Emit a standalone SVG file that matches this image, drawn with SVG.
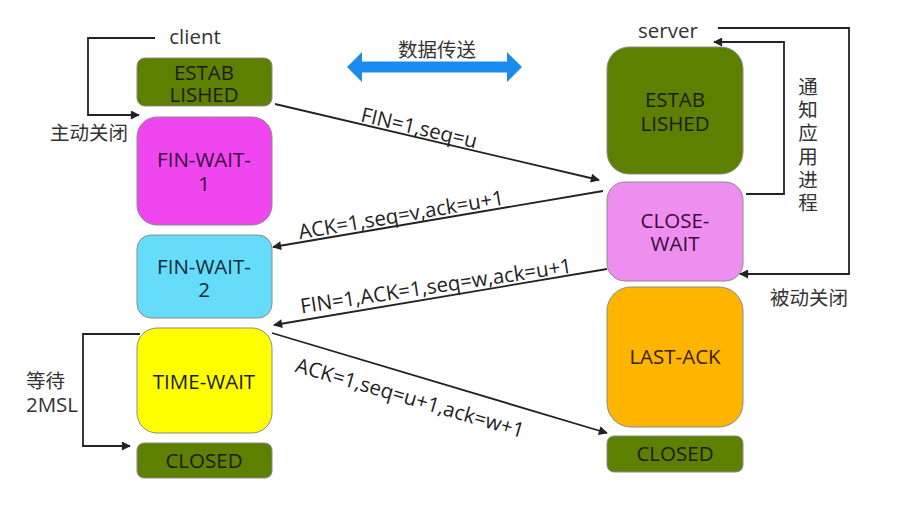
<svg xmlns="http://www.w3.org/2000/svg" width="915" height="509" viewBox="0 0 915 509">
<defs>
<marker id="ah" viewBox="0 0 10 10" refX="9" refY="5" markerWidth="10" markerHeight="9" markerUnits="userSpaceOnUse" orient="auto">
<path d="M0,0 L10,5 L0,10 z" fill="#222"/>
</marker>
<style>
.box{stroke:#8a8a8a;stroke-width:1}
.bt{font-family:"Open Sans","Noto Sans",sans-serif;font-size:20.5px;fill:#1c1c1c;text-anchor:middle}
.lbl{font-family:"Open Sans","Noto Sans",sans-serif;font-size:20.5px;fill:#222;text-anchor:middle}
.cn{font-family:"Noto Sans CJK SC",sans-serif;font-size:19.5px;fill:#333}
.ln{fill:none;stroke:#222;stroke-width:1.8}
</style>
</defs>
<rect width="915" height="509" fill="#fff"/>

<text class="lbl" x="195" y="44" style="fill:#333">client</text>
<text class="lbl" x="668" y="38" style="fill:#333">server</text>

<g id="client-established"><rect class="box" x="137" y="58" width="135" height="48" rx="8" fill="#5e8000"/><text class="bt" x="204" y="80">ESTAB</text><text class="bt" x="204" y="102">LISHED</text></g>
<g id="fin-wait-1"><rect class="box" x="137" y="117" width="135" height="108" rx="20" fill="#ef46f0"/><text class="bt" x="204" y="167" style="fill:#3a0a3a">FIN-WAIT-</text><text class="bt" x="204" y="191" style="fill:#3a0a3a">1</text></g>
<g id="fin-wait-2"><rect class="box" x="137" y="235" width="135" height="83" rx="14" fill="#66dcfb"/><text class="bt" x="204" y="274" style="fill:#0e2a3a">FIN-WAIT-</text><text class="bt" x="204" y="297" style="fill:#0e2a3a">2</text></g>
<g id="time-wait"><rect class="box" x="137" y="328" width="135" height="105" rx="20" fill="#ffff00"/><text class="bt" x="204" y="389">TIME-WAIT</text></g>
<g id="client-closed"><rect class="box" x="137" y="443" width="135" height="35" rx="7" fill="#5e8000"/><text class="bt" x="204" y="468">CLOSED</text></g>

<g id="server-established"><rect class="box" x="607" y="47" width="136" height="127" rx="22" fill="#5e8000"/><text class="bt" x="675" y="107">ESTAB</text><text class="bt" x="675" y="131">LISHED</text></g>
<g id="close-wait"><rect class="box" x="607" y="182" width="136" height="99" rx="18" fill="#ee8ff0"/><text class="bt" x="675" y="228" style="fill:#3a0a3a">CLOSE-</text><text class="bt" x="675" y="251" style="fill:#3a0a3a">WAIT</text></g>
<g id="last-ack"><rect class="box" x="607" y="287" width="136" height="140" rx="24" fill="#ffb400"/><text class="bt" x="675" y="364" style="fill:#3a2200">LAST-ACK</text></g>
<g id="server-closed"><rect class="box" x="607" y="436" width="136" height="36" rx="7" fill="#5e8000"/><text class="bt" x="675" y="461">CLOSED</text></g>

<g id="data-transfer">
<path d="M347,67 L362,52 L362,61.5 L507,61.5 L507,52 L522,67 L507,82 L507,72.5 L362,72.5 L362,82 z" fill="#1a8cf0"/>
<text class="cn" x="437" y="57" text-anchor="middle">数据传送</text>
</g>

<g id="connectors">
<polyline class="ln" points="155,38 88,38 88,115 139,115" marker-end="url(#ah)"/>
<polyline class="ln" points="140,334 83,334 83,446 130,446" marker-end="url(#ah)"/>
<polyline class="ln" points="718,28 849,28 849,274 740,274" marker-end="url(#ah)"/>
<polyline class="ln" points="746,194 784,194 784,42 714,42" marker-end="url(#ah)"/>
<line class="ln" x1="275" y1="104" x2="599" y2="180" marker-end="url(#ah)"/>
<line class="ln" x1="603" y1="191" x2="273" y2="247" marker-end="url(#ah)"/>
<line class="ln" x1="607" y1="269" x2="274" y2="325" marker-end="url(#ah)"/>
<line class="ln" x1="272" y1="333" x2="607" y2="433" marker-end="url(#ah)"/>
</g>

<text class="lbl" transform="translate(419,128) rotate(13.2)" y="7">FIN=1,seq=u</text>
<text class="lbl" transform="translate(401,215) rotate(-9.6)" y="7">ACK=1,seq=v,ack=u+1</text>
<text class="lbl" transform="translate(436,286) rotate(-8.6)" y="7">FIN=1,ACK=1,seq=w,ack=u+1</text>
<text class="lbl" transform="translate(410,398) rotate(16.3)" y="7">ACK=1,seq=u+1,ack=w+1</text>

<text class="cn" x="50" y="140">主动关闭</text>
<text class="cn" x="26" y="388">等待</text>
<text class="lbl" x="52" y="412" style="fill:#333">2MSL</text>
<text class="cn" x="770" y="305">被动关闭</text>
<g class="cn" text-anchor="middle">
<text x="808" y="94">通</text><text x="808" y="117">知</text><text x="808" y="140">应</text><text x="808" y="164">用</text><text x="808" y="187">进</text><text x="808" y="210">程</text>
</g>
</svg>
